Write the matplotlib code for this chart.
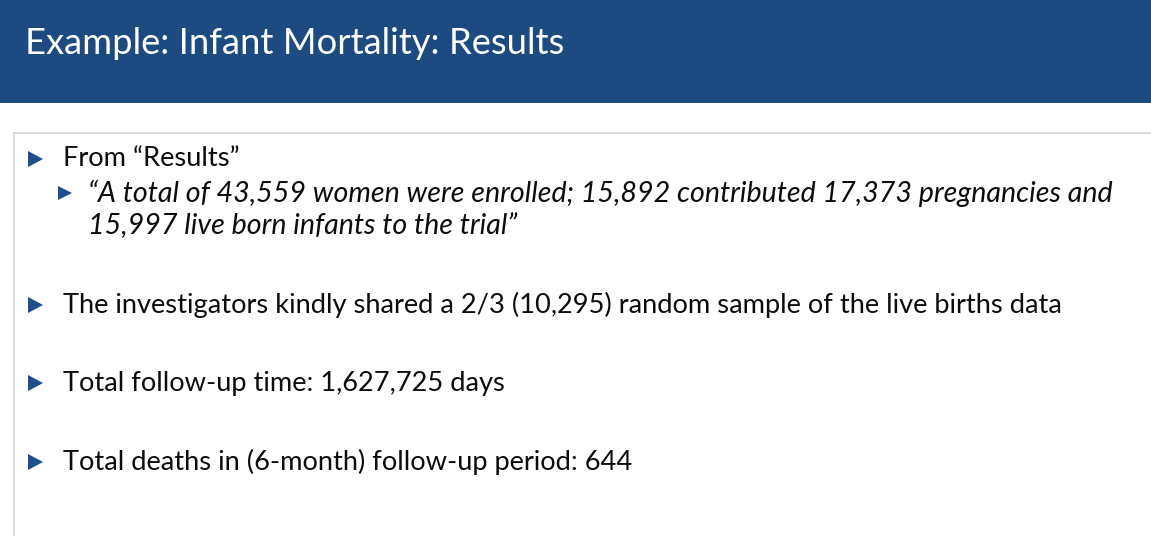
"""Slide: Example: Infant Mortality: Results"""
import matplotlib
matplotlib.use("Agg")
import matplotlib.pyplot as plt
from matplotlib.patches import Rectangle, Polygon

W, H = 1151, 536
DPI = 100

HEADER_BLUE = "#1d4a80"
BULLET_BLUE = "#1f4e8c"
BORDER_GRAY = "#d4d4d4"
TEXT_COLOR = "#0c0c0c"
FONT = "Lato"

title = "Example: Infant Mortality: Results"
bullet_texts = [
    "From \u201cResults\u201d",
    "The investigators kindly shared a 2/3 (10,295) random sample of the live births data",
    "Total follow-up time: 1,627,725 days",
    "Total deaths in (6-month) follow-up period: 644",
]
bullet_y = [159, 305, 383, 462]
quote_lines = [
    "\u201cA total of 43,559 women were enrolled; 15,892 contributed 17,373 pregnancies and",
    "15,997 live born infants to the trial\u201d",
]
quote_y = [193, 226]


def fit_size(fig, ax, text, target_px, style="normal"):
    t = ax.text(0, 0, text, fontsize=20, family=FONT, style=style)
    fig.canvas.draw()
    w = t.get_window_extent().width
    t.remove()
    return 20 * target_px / w


def bullet(ax, x, y, w, h):
    ax.add_patch(Polygon([(x, y - h / 2), (x + w, y), (x, y + h / 2)],
                         closed=True, facecolor=BULLET_BLUE, edgecolor="none"))


def main():
    fig = plt.figure(figsize=(W / DPI, H / DPI), dpi=DPI)
    ax = fig.add_axes([0, 0, 1, 1])
    ax.set_xlim(0, W)
    ax.set_ylim(H, 0)
    ax.axis("off")

    # header band
    ax.add_patch(Rectangle((0, 0), W, 103, facecolor=HEADER_BLUE, edgecolor="none"))
    # content frame (top + left edges)
    ax.plot([14, W], [133, 133], color=BORDER_GRAY, lw=1.2)
    ax.plot([14, 14], [133, H], color=BORDER_GRAY, lw=1.2)

    title_fs = fit_size(fig, ax, title, 540)
    body_fs = fit_size(fig, ax, bullet_texts[1], 1002)
    quote_fs = fit_size(fig, ax, quote_lines[0], 1022, style="italic")

    ax.text(25, 44, title, fontsize=title_fs, family=FONT, color="white",
            va="center", ha="left")

    for txt, y in zip(bullet_texts, bullet_y):
        bullet(ax, 28, y, 15, 16)
        ax.text(63, y, txt, fontsize=body_fs, family=FONT, color=TEXT_COLOR,
                va="center", ha="left")

    bullet(ax, 58, quote_y[0], 14, 14)
    for txt, y in zip(quote_lines, quote_y):
        ax.text(88, y, txt, fontsize=quote_fs, family=FONT, style="italic",
                color=TEXT_COLOR, va="center", ha="left")

    fig.savefig("out.png", dpi=DPI)


if __name__ == "__main__":
    main()
